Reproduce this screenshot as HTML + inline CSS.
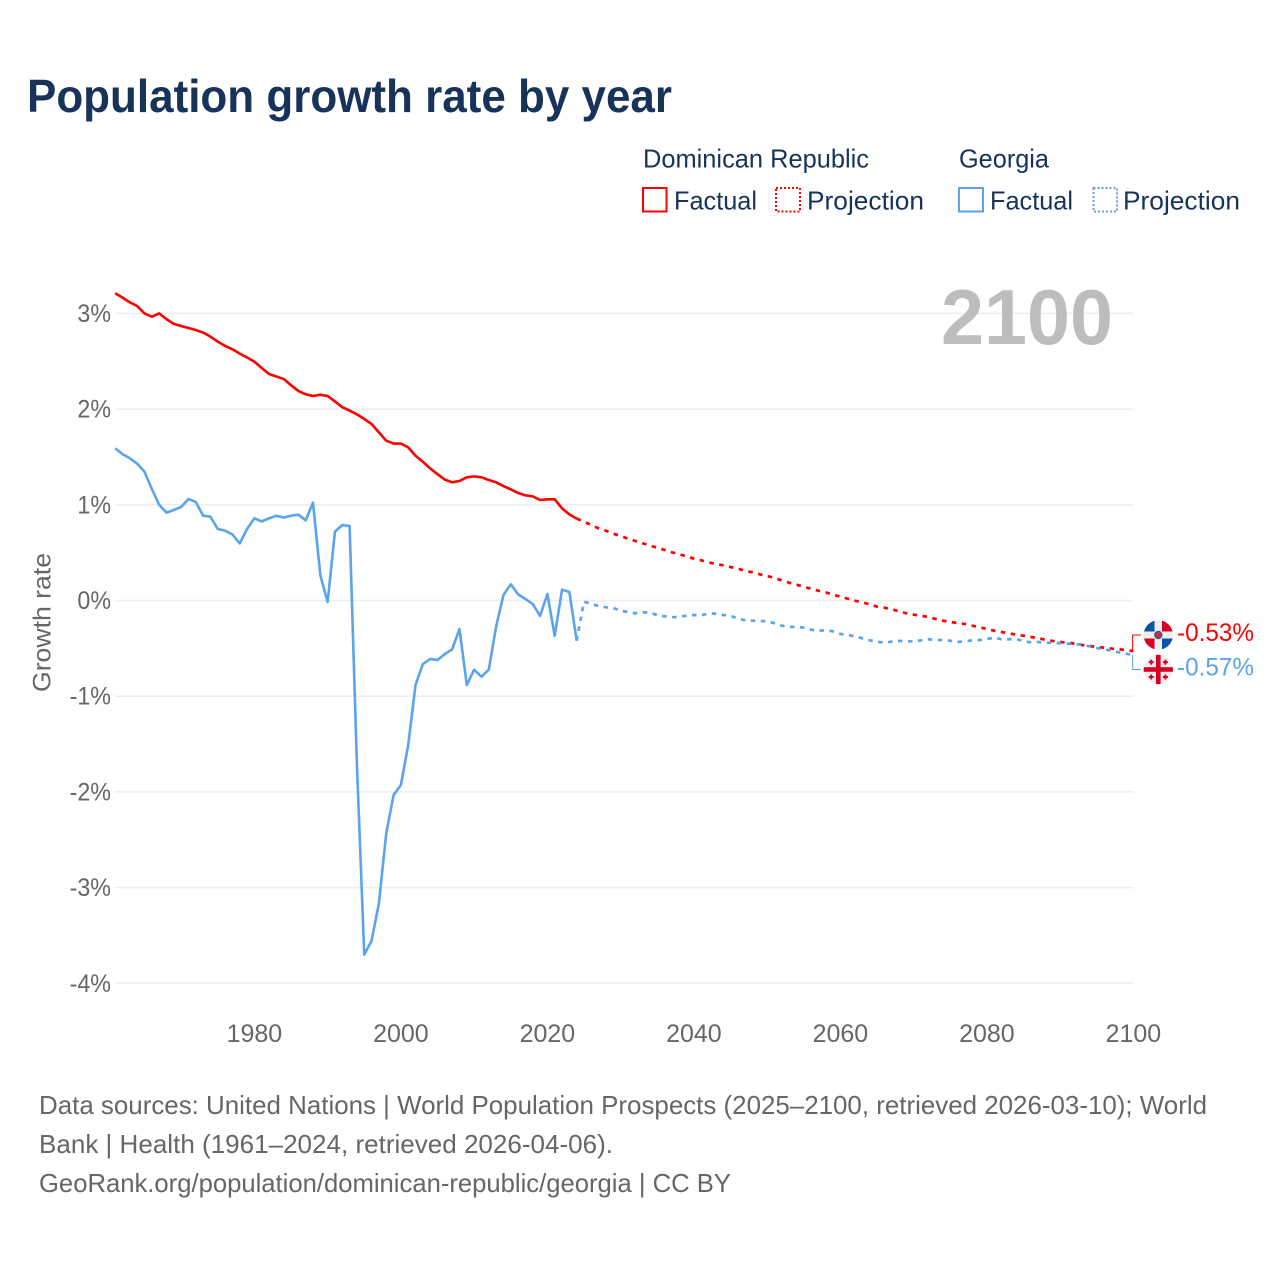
<!DOCTYPE html>
<html lang="en">
<head>
<meta charset="utf-8">
<title>Population growth rate by year</title>
<style>
html,body{margin:0;padding:0;background:#fff;}
svg{display:block;font-family:"Liberation Sans",sans-serif;}
</style>
</head>
<body>
<svg id="chart" xmlns="http://www.w3.org/2000/svg" width="1280" height="1280" viewBox="0 0 1280 1280">
  <rect width="1280" height="1280" fill="#ffffff"/>
  <text x="27" y="112" font-size="46" font-weight="bold" fill="#17335a" textLength="645" lengthAdjust="spacingAndGlyphs">Population growth rate by year</text>

  <g font-size="26" fill="#17335a">
    <text x="643" y="167.5" textLength="226" lengthAdjust="spacingAndGlyphs">Dominican Republic</text>
    <text x="959" y="167.5" textLength="90" lengthAdjust="spacingAndGlyphs">Georgia</text>
    <rect x="643" y="188" width="23.5" height="23.5" fill="none" stroke="#ff0000" stroke-width="2"/>
    <text x="674" y="209.5" textLength="83" lengthAdjust="spacingAndGlyphs">Factual</text>
    <rect x="776" y="188" width="24" height="23.5" fill="none" stroke="#ff0000" stroke-width="2" stroke-dasharray="2 2"/>
    <text x="807" y="209.5" textLength="117" lengthAdjust="spacingAndGlyphs">Projection</text>
    <rect x="959" y="188" width="24" height="23.5" fill="none" stroke="#5ba4ec" stroke-width="2"/>
    <text x="990" y="209.5" textLength="83" lengthAdjust="spacingAndGlyphs">Factual</text>
    <rect x="1093.5" y="188" width="23.5" height="23.5" fill="none" stroke="#5ba4ec" stroke-width="2" stroke-dasharray="2 2"/>
    <text x="1123" y="209.5" textLength="117" lengthAdjust="spacingAndGlyphs">Projection</text>
  </g>

  <g id="grid"></g>
  <g id="y-ticks" font-size="25" fill="#666666" text-anchor="end"></g>
  <g id="x-ticks" font-size="25" fill="#666666" text-anchor="middle"></g>
  <text transform="translate(50.5,692) rotate(-90)" font-size="25" fill="#666666" textLength="139" lengthAdjust="spacingAndGlyphs">Growth rate</text>
  <text x="941" y="344" font-size="78" font-weight="bold" fill="#bdbdbd" textLength="172" lengthAdjust="spacingAndGlyphs">2100</text>

  <g id="series"></g>
  <g id="end-labels" font-size="25"></g>

  <defs>
    <clipPath id="flag-clip-dr"><circle cx="1158.3" cy="635" r="14.7"/></clipPath>
    <clipPath id="flag-clip-ge"><circle cx="1158.3" cy="669.5" r="14.7"/></clipPath>
  </defs>
  <g clip-path="url(#flag-clip-dr)">
    <rect x="1143" y="620" width="31" height="31" fill="#eeeeee"/>
    <rect x="1143" y="620" width="11.5" height="11.5" fill="#0a52a5"/>
    <rect x="1162" y="620" width="12" height="11.5" fill="#d80027"/>
    <rect x="1143" y="638.5" width="11.5" height="12" fill="#d80027"/>
    <rect x="1162" y="638.5" width="12" height="12" fill="#0a52a5"/>
    <circle cx="1158.3" cy="635" r="3.6" fill="#c0304a" stroke="#2f5d8f" stroke-width="1.2"/>
  </g>
  <g clip-path="url(#flag-clip-ge)">
    <rect x="1143" y="654" width="31" height="31" fill="#eeeeee"/>
    <rect x="1156" y="654" width="4.6" height="31" fill="#d80027"/>
    <rect x="1143" y="667.2" width="31" height="4.6" fill="#d80027"/>
    <g fill="#d80027">
      <rect x="1148.7" y="661.2" width="5" height="2"/><rect x="1150.2" y="659.7" width="2" height="5"/>
      <rect x="1162.9" y="661.2" width="5" height="2"/><rect x="1164.4" y="659.7" width="2" height="5"/>
      <rect x="1148.7" y="676" width="5" height="2"/><rect x="1150.2" y="674.5" width="2" height="5"/>
      <rect x="1162.9" y="676" width="5" height="2"/><rect x="1164.4" y="674.5" width="2" height="5"/>
    </g>
  </g>

  <g font-size="26" fill="#666666">
    <text x="39" y="1114" textLength="1168" lengthAdjust="spacingAndGlyphs">Data sources: United Nations | World Population Prospects (2025–2100, retrieved 2026-03-10); World</text>
    <text x="39" y="1153" textLength="574" lengthAdjust="spacingAndGlyphs">Bank | Health (1961–2024, retrieved 2026-04-06).</text>
    <text x="39" y="1192" textLength="692" lengthAdjust="spacingAndGlyphs">GeoRank.org/population/dominican-republic/georgia | CC BY</text>
  </g>
</svg>

<script>
const yTicks = [3, 2, 1, 0, -1, -2, -3, -4];
const xTicks = [1980, 2000, 2020, 2040, 2060, 2080, 2100];
const factualStartYear = 1961;
const projectionStartYear = 2024;

const drFactual = [
  3.21, 3.165, 3.115, 3.077, 3.00, 2.966, 3.00, 2.94, 2.89, 2.868,
  2.847, 2.826, 2.80, 2.757, 2.705, 2.66, 2.625, 2.58, 2.54, 2.495,
  2.43, 2.367, 2.34, 2.315, 2.25, 2.19, 2.155, 2.137, 2.15, 2.137,
  2.08, 2.02, 1.985, 1.945, 1.897, 1.844, 1.757, 1.67, 1.64, 1.64,
  1.60, 1.513, 1.45, 1.38, 1.32, 1.263, 1.235, 1.249, 1.287, 1.297,
  1.287, 1.259, 1.235, 1.196, 1.162, 1.123, 1.099, 1.088, 1.05, 1.057,
  1.057, 0.963, 0.90, 0.855
];

const drProjection = [
  0.855, 0.827, 0.786, 0.754, 0.729, 0.698, 0.674, 0.646, 0.622, 0.598,
  0.573, 0.552, 0.528, 0.504, 0.483, 0.462, 0.437, 0.42, 0.399, 0.381,
  0.368, 0.35, 0.332, 0.311, 0.294, 0.274, 0.256, 0.235, 0.211, 0.186,
  0.165, 0.144, 0.123, 0.102, 0.085, 0.061, 0.04, 0.019, -0.002, -0.019,
  -0.04, -0.065, -0.075, -0.092, -0.113, -0.134, -0.148, -0.159, -0.172, -0.193,
  -0.211, -0.225, -0.235, -0.246, -0.263, -0.28, -0.298, -0.316, -0.329, -0.343,
  -0.357, -0.368, -0.381, -0.395, -0.41, -0.423, -0.434, -0.441, -0.451, -0.465,
  -0.475, -0.486, -0.493, -0.503, -0.51, -0.517, -0.53
];

const geFactual = [
  1.59, 1.53, 1.486, 1.43, 1.346, 1.165, 1.00, 0.918, 0.946, 0.977,
  1.06, 1.03, 0.886, 0.876, 0.747, 0.73, 0.69, 0.597, 0.747, 0.858,
  0.827, 0.858, 0.886, 0.866, 0.886, 0.897, 0.838, 1.022, 0.266, -0.016,
  0.72, 0.789, 0.778, -1.72, -3.70, -3.555, -3.165, -2.433, -2.033, -1.928,
  -1.51, -0.883, -0.664, -0.611, -0.622, -0.559, -0.51, -0.298, -0.883, -0.723,
  -0.796, -0.723, -0.274, 0.057, 0.169, 0.065, 0.016, -0.037, -0.162, 0.068,
  -0.368, 0.113, 0.089, -0.42
];

const geProjection = [
  -0.42, -0.012, -0.037, -0.057, -0.071, -0.078, -0.107, -0.12, -0.134, -0.123,
  -0.127, -0.152, -0.165, -0.176, -0.169, -0.159, -0.152, -0.155, -0.134, -0.138,
  -0.152, -0.159, -0.19, -0.207, -0.211, -0.214, -0.217, -0.238, -0.263, -0.277,
  -0.274, -0.284, -0.305, -0.316, -0.311, -0.322, -0.35, -0.36, -0.374, -0.395,
  -0.416, -0.43, -0.441, -0.43, -0.423, -0.423, -0.43, -0.416, -0.405, -0.413,
  -0.413, -0.42, -0.434, -0.426, -0.416, -0.413, -0.402, -0.389, -0.405, -0.405,
  -0.402, -0.426, -0.437, -0.434, -0.441, -0.441, -0.447, -0.451, -0.455, -0.462,
  -0.479, -0.496, -0.51, -0.524, -0.541, -0.556, -0.57
];

const NS = 'http://www.w3.org/2000/svg';
const RED = '#ff0000';
const BLUE = '#5ba4ec';

function xScale(year) {
  return 115.2 + (year - 1961) * (1133.4 - 115.2) / (2100 - 1961);
}
function yScale(value) {
  return 600.5 - value * 95.7;
}
function linePoints(values, startYear) {
  return values.map(function (v, i) {
    return xScale(startYear + i).toFixed(2) + ',' + yScale(v).toFixed(2);
  }).join(' ');
}
function formatPercent(value) {
  return value.toFixed(2) + '%';
}

const gridGroup = document.getElementById('grid');
const yTickGroup = document.getElementById('y-ticks');
const xTickGroup = document.getElementById('x-ticks');
const seriesGroup = document.getElementById('series');
const endGroup = document.getElementById('end-labels');

yTicks.forEach(function (t) {
  const line = document.createElementNS(NS, 'line');
  
  
  line.setAttribute('x1', xScale(1961));
  line.setAttribute('x2', xScale(2100));
  line.setAttribute('y1', yScale(t));
  line.setAttribute('y2', yScale(t));
  line.setAttribute('stroke', '#eeeeee');
  line.setAttribute('stroke-width', '1.5');
  gridGroup.appendChild(line);

  const label = document.createElementNS(NS, 'text');
  
  
  label.setAttribute('x', 111);
  label.setAttribute('y', yScale(t) + 8.5);
  label.textContent = t + '%';
  yTickGroup.appendChild(label);
  label.setAttribute('textLength', (label.getComputedTextLength() * 0.93).toFixed(1));
  label.setAttribute('lengthAdjust', 'spacingAndGlyphs');
});

xTicks.forEach(function (t) {
  const label = document.createElementNS(NS, 'text');
  
  
  label.setAttribute('x', xScale(t));
  label.setAttribute('y', 1042);
  label.textContent = String(t);
  xTickGroup.appendChild(label);
});

const drFactualLine = document.createElementNS(NS, 'polyline');


drFactualLine.setAttribute('points', linePoints(drFactual, factualStartYear));
drFactualLine.setAttribute('fill', 'none');
drFactualLine.setAttribute('stroke', RED);
drFactualLine.setAttribute('stroke-width', '2.6');
drFactualLine.setAttribute('stroke-linejoin', 'round');
seriesGroup.appendChild(drFactualLine);

const drProjectionLine = document.createElementNS(NS, 'polyline');


drProjectionLine.setAttribute('points', linePoints(drProjection, projectionStartYear));
drProjectionLine.setAttribute('fill', 'none');
drProjectionLine.setAttribute('stroke', RED);
drProjectionLine.setAttribute('stroke-width', '2.7');
drProjectionLine.setAttribute('stroke-dasharray', '4.5 5.5');
seriesGroup.appendChild(drProjectionLine);

const geFactualLine = document.createElementNS(NS, 'polyline');


geFactualLine.setAttribute('points', linePoints(geFactual, factualStartYear));
geFactualLine.setAttribute('fill', 'none');
geFactualLine.setAttribute('stroke', BLUE);
geFactualLine.setAttribute('stroke-width', '2.6');
geFactualLine.setAttribute('stroke-linejoin', 'round');
seriesGroup.appendChild(geFactualLine);

const geProjectionLine = document.createElementNS(NS, 'polyline');


geProjectionLine.setAttribute('points', linePoints(geProjection, projectionStartYear));
geProjectionLine.setAttribute('fill', 'none');
geProjectionLine.setAttribute('stroke', BLUE);
geProjectionLine.setAttribute('stroke-width', '2.7');
geProjectionLine.setAttribute('stroke-dasharray', '4.5 5.5');
seriesGroup.appendChild(geProjectionLine);

const drEnd = drProjection[drProjection.length - 1];
const geEnd = geProjection[geProjection.length - 1];

const drConnector = document.createElementNS(NS, 'polyline');


drConnector.setAttribute('points', '1132.6,' + yScale(drEnd).toFixed(1) + ' 1132.6,635 1141,635');
drConnector.setAttribute('fill', 'none');
drConnector.setAttribute('stroke', RED);
drConnector.setAttribute('stroke-width', '1');
endGroup.appendChild(drConnector);

const geConnector = document.createElementNS(NS, 'polyline');


geConnector.setAttribute('points', '1132.6,' + yScale(geEnd).toFixed(1) + ' 1132.6,669.5 1141,669.5');
geConnector.setAttribute('fill', 'none');
geConnector.setAttribute('stroke', BLUE);
geConnector.setAttribute('stroke-width', '1');
endGroup.appendChild(geConnector);

const drLabel = document.createElementNS(NS, 'text');


drLabel.setAttribute('x', 1177);
drLabel.setAttribute('y', 641);
drLabel.setAttribute('fill', RED);
drLabel.setAttribute('textLength', '77');
drLabel.setAttribute('lengthAdjust', 'spacingAndGlyphs');
drLabel.textContent = formatPercent(drEnd);
endGroup.appendChild(drLabel);

const geLabel = document.createElementNS(NS, 'text');


geLabel.setAttribute('x', 1177);
geLabel.setAttribute('y', 675.5);
geLabel.setAttribute('fill', BLUE);
geLabel.setAttribute('textLength', '77');
geLabel.setAttribute('lengthAdjust', 'spacingAndGlyphs');
geLabel.textContent = formatPercent(geEnd);
endGroup.appendChild(geLabel);
</script>
</body>
</html>
